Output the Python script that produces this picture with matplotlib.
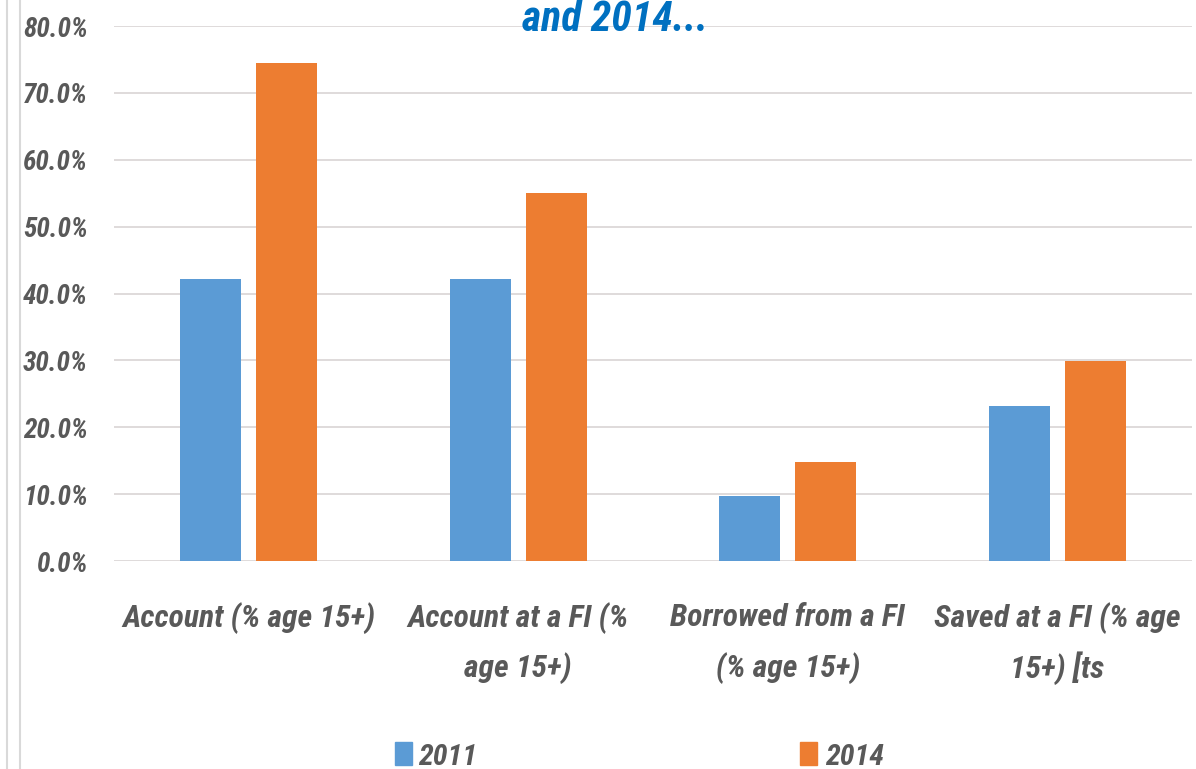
import matplotlib
matplotlib.use("Agg")
import matplotlib.pyplot as plt
import numpy as np
from matplotlib import font_manager as fm
from matplotlib.transforms import blended_transform_factory
from matplotlib.ticker import FuncFormatter

categories = ["Account (% age 15+)", "Account at a FI (%\nage 15+)",
              "Borrowed from a FI\n(% age 15+)", "Saved at a FI (% age\n15+) [ts"]
series_names = ["2011", "2014"]
values_2011 = [42.2, 42.2, 9.7, 23.2]
values_2014 = [74.5, 55.0, 14.8, 29.9]
yticks = [0, 10, 20, 30, 40, 50, 60, 70, 80]
title = "and 2014..."

blue = "#5B9BD5"
orange = "#ED7D31"
grey_text = "#595959"


def pick_font():
    names = {f.name for f in fm.fontManager.ttflist}
    for n in ['Liberation Sans Narrow', 'DejaVu Sans Condensed', 'Roboto Condensed',
              'Open Sans Condensed', 'Noto Sans Condensed']:
        if n in names:
            return n, 'normal'
    for f in fm.fontManager.ttflist:
        if f.name == 'DejaVu Sans' and f.stretch == 'condensed':
            return 'DejaVu Sans', 'condensed'
    return 'Lato', 'normal'


FAM, STRETCH = pick_font()
plt.rcParams['font.family'] = [FAM, 'DejaVu Sans']
TXT = dict(fontweight='bold', fontstyle='italic', fontstretch=STRETCH)

W, H = 1196, 769
fig = plt.figure(figsize=(W / 100, H / 100), dpi=100)
renderer = fig.canvas.get_renderer()


def fit_size(s, target_px, base=20):
    t = fig.text(0, 0, s, fontsize=base, **TXT)
    w = t.get_window_extent(renderer).width
    t.remove()
    return base * target_px / w


ax = fig.add_axes([114 / W, (H - 561) / H, (1192 - 114) / W, (561 - 26) / H])

x = np.arange(len(categories))
bw = 0.227
off = 0.141
ax.bar(x - off, values_2011, bw, color=blue, zorder=3, label=series_names[0])
ax.bar(x + off, values_2014, bw, color=orange, zorder=3, label=series_names[1])

ax.set_xlim(-0.5, len(categories) - 0.5)
ax.set_ylim(0, 80)
ax.set_yticks(yticks)
ax.yaxis.set_major_formatter(FuncFormatter(lambda v, p: f"{v:.1f}%"))
ax.grid(axis='y', color='#D9D4D4', linewidth=1.2, zorder=0)
ax.set_axisbelow(True)
for s in ax.spines.values():
    s.set_visible(False)
ax.tick_params(axis='both', length=0)
ax.tick_params(axis='y', pad=26 * 0.72)
ysize = fit_size("80.0%", 65)
for lab in ax.get_yticklabels():
    lab.set_fontsize(ysize)
    lab.set_fontweight('bold')
    lab.set_fontstyle('italic')
    lab.set_fontstretch(STRETCH)
    lab.set_color(grey_text)

# x category labels, drawn line by line
ax.set_xticks(x)
ax.set_xticklabels([""] * len(categories))
xsize = fit_size("Account (% age 15+)", 253)
tr = blended_transform_factory(ax.transData, fig.transFigure)
for i, cat in enumerate(categories):
    for j, line in enumerate(cat.split("\n")):
        fig.text(x[i], 1 - (618 + 50 * j) / H, line, transform=tr, ha='center', va='center',
                 fontsize=xsize, color=grey_text, **TXT)

# title (cut at top)
tsize = fit_size(title, 186)
fig.text(615 / W, 1 - 31 / H, title, ha='center', va='baseline', fontsize=tsize,
         color="#0070C0", **TXT)

# legend
lsize = fit_size("2011", 59)
for sq_x, txt_x, c, name in [(395, 418, blue, series_names[0]), (800, 825, orange, series_names[1])]:
    fig.patches.append(plt.Rectangle((sq_x / W, 1 - 765 / H), 17 / W, 23 / H,
                                     transform=fig.transFigure, color=c, figure=fig))
    fig.text(txt_x / W, 1 - 765 / H, name, ha='left', va='baseline', fontsize=lsize,
             color=grey_text, **TXT)

# left frame lines
for lx in (7, 20):
    fig.add_artist(plt.Line2D([lx / W, lx / W], [0, 1], transform=fig.transFigure,
                              color="#D9D9D9", linewidth=1.5))

fig.savefig("out.png", dpi=100)
